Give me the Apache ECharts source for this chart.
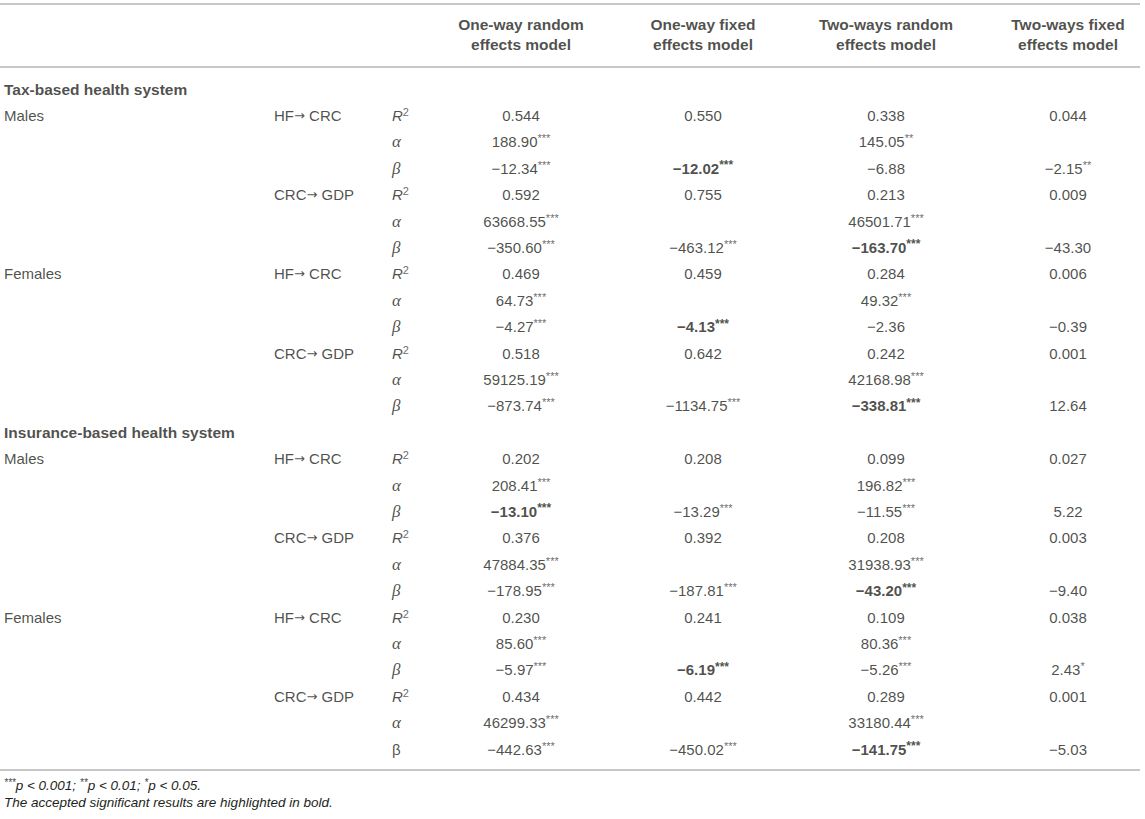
<!DOCTYPE html>
<html>
<head>
    <meta charset="utf-8">
    <title>Health financing, CRC and GDP panel models</title>
    <script type="text/javascript" src="https://cdn.jsdelivr.net/npm/echarts@6/dist/echarts.min.js"></script>
    <style>
        html, body { margin: 0; padding: 0; background: #fff; }
        #container { width: 1145px; height: 819px; }
    </style>
</head>
<body>
<div id="container"></div>
<script type="text/javascript">
    // column headers
    var headers = ['One-way random\neffects model', 'One-way fixed\neffects model',
                   'Two-ways random\neffects model', 'Two-ways fixed\neffects model'];

    // row labels (26 rows, 0 and 13 are the section headings)
    var groupLabels = ['Tax-based health system', 'Males', '', '', '', '', '', 'Females', '', '', '', '', '',
                       'Insurance-based health system', 'Males', '', '', '', '', '', 'Females', '', '', '', '', ''];
    var headingRows = [0, 13];
    var pathways = ['', 'HF|CRC', '', '', 'CRC|GDP', '', '', 'HF|CRC', '', '', 'CRC|GDP', '', '',
                    '', 'HF|CRC', '', '', 'CRC|GDP', '', '', 'HF|CRC', '', '', 'CRC|GDP', '', ''];
    var symbols = ['', 'R2', 'a', 'b', 'R2', 'a', 'b', 'R2', 'a', 'b', 'R2', 'a', 'b',
                   '', 'R2', 'a', 'b', 'R2', 'a', 'b', 'R2', 'a', 'b', 'R2', 'a', 'B'];

    // estimates, stars kept with the value
    var oneRandom = ['', '0.544', '188.90***', '\u221212.34***', '0.592', '63668.55***', '\u2212350.60***',
                     '0.469', '64.73***', '\u22124.27***', '0.518', '59125.19***', '\u2212873.74***',
                     '', '0.202', '208.41***', '\u221213.10***', '0.376', '47884.35***', '\u2212178.95***',
                     '0.230', '85.60***', '\u22125.97***', '0.434', '46299.33***', '\u2212442.63***'];
    var oneFixed  = ['', '0.550', '', '\u221212.02***', '0.755', '', '\u2212463.12***',
                     '0.459', '', '\u22124.13***', '0.642', '', '\u22121134.75***',
                     '', '0.208', '', '\u221213.29***', '0.392', '', '\u2212187.81***',
                     '0.241', '', '\u22126.19***', '0.442', '', '\u2212450.02***'];
    var twoRandom = ['', '0.338', '145.05**', '\u22126.88', '0.213', '46501.71***', '\u2212163.70***',
                     '0.284', '49.32***', '\u22122.36', '0.242', '42168.98***', '\u2212338.81***',
                     '', '0.099', '196.82***', '\u221211.55***', '0.208', '31938.93***', '\u221243.20***',
                     '0.109', '80.36***', '\u22125.26***', '0.289', '33180.44***', '\u2212141.75***'];
    var twoFixed  = ['', '0.044', '', '\u22122.15**', '0.009', '', '\u221243.30',
                     '0.006', '', '\u22120.39', '0.001', '', '12.64',
                     '', '0.027', '', '5.22', '0.003', '', '\u22129.40',
                     '0.038', '', '2.43*', '0.001', '', '\u22125.03'];
    // [row, column] of the accepted results printed in bold
    var boldCells = [[3, 1], [6, 2], [9, 1], [12, 2], [16, 0], [19, 2], [22, 1], [25, 2]];

    var footnote2 = 'The accepted significant results are highlighted in bold.';

    // layout
    var ROW_H = 26.4, FIRST_Y = 89, Y_MIN = -3, Y_MAX = 26;
    var colX = { group: 4, path: 274, sym: 392, data: [521, 703, 886, 1068] };
    var FONT = '"Liberation Sans", Arial, Helvetica, sans-serif';
    var TXT = '#231f20';
    var RULE = '#b5b5b5';

    var dom = document.getElementById('container');
    var myChart = echarts.init(dom, null, { renderer: 'svg' });

    var rich = {
        v:  { fontFamily: FONT, fontSize: 15, color: TXT, lineHeight: 18 },
        vb: { fontFamily: FONT, fontSize: 15, color: TXT, lineHeight: 18, fontWeight: 'bold' },
        ar: { fontFamily: '"DejaVu Sans", sans-serif', fontSize: 13, color: TXT, lineHeight: 18 },
        s:  { fontFamily: FONT, fontSize: 11, color: '#444', lineHeight: 11, verticalAlign: 'top' },
        sb: { fontFamily: FONT, fontSize: 12, color: TXT, lineHeight: 11, verticalAlign: 'top', fontWeight: 'bold' },
        h:  { fontFamily: FONT, fontSize: 15.5, color: TXT, fontWeight: 'bold', lineHeight: 20 },
        r:  { fontFamily: FONT, fontSize: 15, color: TXT, lineHeight: 18, fontStyle: 'italic' },
        g:  { fontFamily: '"Liberation Serif", "DejaVu Serif", serif', fontSize: 17, color: TXT, lineHeight: 18, fontStyle: 'italic' },
        gu: { fontFamily: FONT, fontSize: 15, color: TXT, lineHeight: 18 }
    };

    function isBold(row, col) {
        for (var i = 0; i < boldCells.length; i++) {
            if (boldCells[i][0] === row && boldCells[i][1] === col) return true;
        }
        return false;
    }

    function valueText(str, bold) {
        var m = str.match(/^([^*]*)(\**)$/);
        var out = '{' + (bold ? 'vb' : 'v') + '|' + m[1] + '}';
        if (m[2]) out += '{' + (bold ? 'sb' : 's') + '|' + m[2] + '}';
        return out;
    }

    function pathText(code) {
        var p = code.split('|');
        return '{v|' + p[0] + '}{ar|\u2192}{v| ' + p[1] + '}';
    }

    function symText(code) {
        if (code === 'R2') return '{r|R}{s|2}';
        if (code === 'a') return '{g|\u03b1}';
        if (code === 'b') return '{g|\u03b2}';
        return '{gu|\u03b2}';
    }

    function textSeries(points, align) {
        return {
            type: 'scatter',
            symbolSize: 1,
            itemStyle: { color: 'transparent' },
            silent: true,
            clip: false,
            data: points,
            label: {
                show: true,
                position: 'inside',
                align: align,
                verticalAlign: 'middle',
                formatter: function (p) { return p.data.text; },
                rich: rich
            }
        };
    }

    var groupPts = [], pathPts = [], symPts = [], headPts = [];
    groupLabels.forEach(function (t, i) {
        if (!t) return;
        var tag = headingRows.indexOf(i) >= 0 ? 'h' : 'v';
        groupPts.push({ value: [colX.group, i], text: '{' + tag + '|' + t + '}' });
    });
    pathways.forEach(function (t, i) {
        if (t) pathPts.push({ value: [colX.path, i], text: pathText(t) });
    });
    symbols.forEach(function (t, i) {
        if (t) symPts.push({ value: [colX.sym, i], text: symText(t) });
    });
    var headerRow = (34 - FIRST_Y) / ROW_H;
    headers.forEach(function (t, c) {
        headPts.push({ value: [colX.data[c], headerRow],
                       text: t.split('\n').map(function (l) { return '{h|' + l + '}'; }).join('\n') });
    });

    var columns = [oneRandom, oneFixed, twoRandom, twoFixed];
    var series = [textSeries(groupPts, 'left'), textSeries(pathPts, 'left'),
                  textSeries(symPts, 'left'), textSeries(headPts, 'center')];
    columns.forEach(function (col, c) {
        var pts = [];
        col.forEach(function (t, i) {
            if (t) pts.push({ value: [colX.data[c], i], text: valueText(t, isBold(i, c)) });
        });
        series.push(textSeries(pts, 'center'));
    });

    function rule(y) {
        return { type: 'line', silent: true, shape: { x1: 0, y1: y, x2: 1140, y2: y },
                 style: { stroke: RULE, lineWidth: 1.6 } };
    }

    var gridTop = FIRST_Y + Y_MIN * ROW_H;
    var gridBottom = 819 - (FIRST_Y + Y_MAX * ROW_H);

    var option = {
        animation: false,
        grid: { left: 0, right: 0, top: gridTop, bottom: gridBottom },
        xAxis: { type: 'value', min: 0, max: 1145, show: false },
        yAxis: { type: 'value', min: Y_MIN, max: Y_MAX, inverse: true, show: false },
        graphic: [
            rule(4), rule(67), rule(770),
            { type: 'text', silent: true, left: 4, top: 777,
              style: { text: '{s|***}{i|p < 0.001; }{s|**}{i|p < 0.01; }{s|*}{i|p < 0.05.}',
                       rich: {
                           i: { fontFamily: FONT, fontSize: 13.5, fontStyle: 'italic', fill: TXT, lineHeight: 16 },
                           s: { fontFamily: FONT, fontSize: 10, fontStyle: 'italic', fill: '#444', lineHeight: 10, verticalAlign: 'top' }
                       } } },
            { type: 'text', silent: true, left: 4, top: 795,
              style: { text: footnote2, font: 'italic 13.5px ' + FONT, fill: TXT } }
        ],
        series: series
    };

    myChart.setOption(option);
    window.addEventListener('resize', myChart.resize);
</script>
</body>
</html>
